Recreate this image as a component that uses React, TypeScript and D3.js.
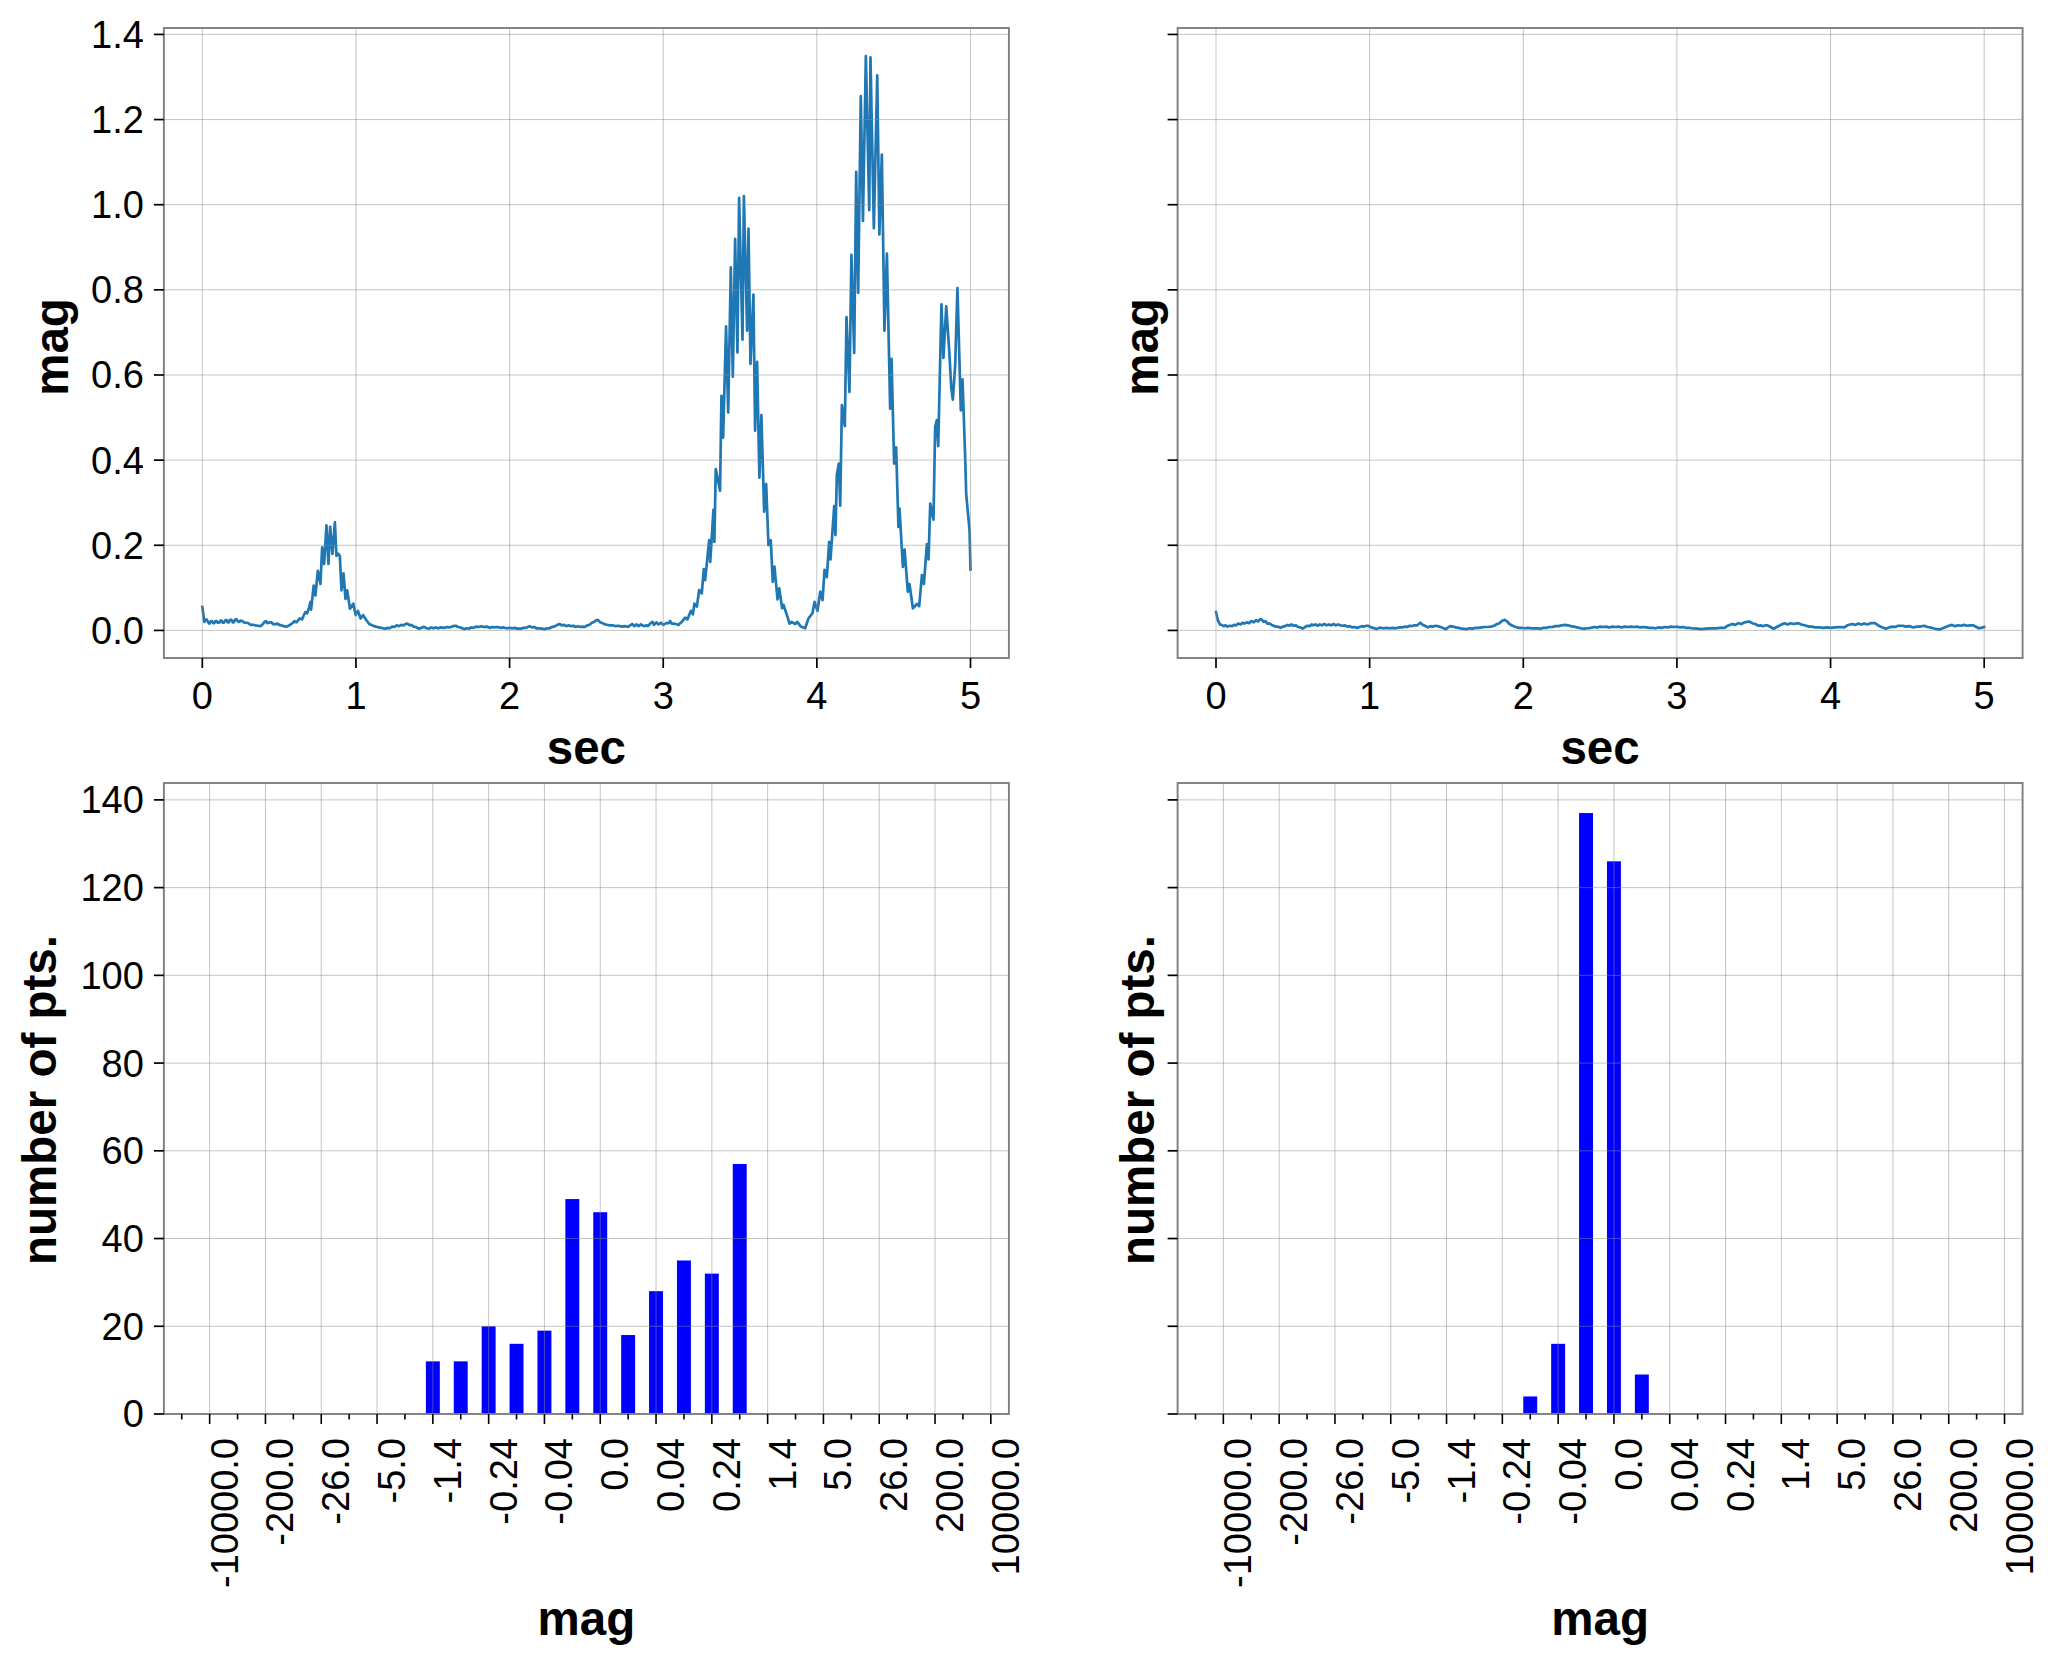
import React from "react";
import * as d3 from "d3";

type P = [number, number];

// top-left: sec, mag
const quietStartA: P[] = [[0,.055],[.013,.02],[.02,.024],[.028,.026],[.037,.02],[.046,.016],[.055,.021],[.063,.022],[.07,.017],[.078,.017],[.085,.022],[.093,.022],[.1,.018],[.11,.018],[.118,.023],[.125,.023],[.132,.018],[.14,.018],[.15,.024],[.158,.024],[.165,.019],[.172,.019],[.18,.025],[.19,.025],[.198,.019],[.205,.019],[.215,.026],[.223,.026],[.232,.021],[.24,.02],[.25,.023],[.26,.022],[.27,.019],[.28,.018],[.29,.018],[.3,.017],[.31,.014],[.32,.013],[.333,.013],[.345,.012],[.36,.011],[.377,.01],[.386,.012],[.395,.015],[.405,.02],[.414,.022],[.422,.017],[.43,.018],[.44,.019],[.45,.019],[.46,.015],[.47,.015],[.48,.015],[.49,.016],[.5,.013],[.515,.012],[.53,.01],[.547,.0085],[.556,.01],[.565,.012],[.578,.015],[.59,.018],[.6,.022],[.612,.019],[.625,.024],[.633,.028],[.649,.026],[.66,.035]];
const bumpA: P[] = [[.671,.043],[.682,.04],[.693,.051],[.704,.067],[.708,.049],[.725,.105],[.736,.082],[.752,.14],[.769,.109],[.78,.195],[.793,.156],[.808,.247],[.821,.156],[.832,.243],[.847,.18],[.863,.254],[.873,.175],[.885,.18],[.895,.175],[.906,.094],[.919,.134],[.932,.074],[.943,.094],[.961,.051],[.983,.063],[.998,.036],[1.013,.046],[1.03,.028],[1.046,.036],[1.068,.024],[1.086,.015],[1.1,.013],[1.118,.01],[1.15,.007],[1.19,.004]];
const quietMidA: P[] = [[1.205,.006],[1.22,.005],[1.235,.009],[1.25,.008],[1.265,.012],[1.28,.01],[1.295,.013],[1.31,.012],[1.322,.015],[1.335,.016],[1.348,.012],[1.36,.013],[1.375,.009],[1.39,.008],[1.41,.004],[1.425,.006],[1.444,.0085],[1.46,.005],[1.476,.004],[1.49,.007],[1.505,.005],[1.52,.007],[1.535,.005],[1.55,.007],[1.574,.006],[1.595,.008],[1.61,.007],[1.63,.01],[1.65,.011],[1.665,.008],[1.68,.007],[1.704,.003],[1.72,.005],[1.735,.004],[1.75,.007],[1.765,.006],[1.78,.009],[1.8,.008],[1.815,.01],[1.83,.008],[1.85,.009],[1.87,.006],[1.885,.008],[1.9,.007],[1.92,.008],[1.945,.006],[1.96,.007],[1.98,.005],[2.0,.006],[2.02,.005],[2.035,.006],[2.05,.004],[2.076,.004],[2.09,.006],[2.105,.006],[2.13,.01],[2.145,.007],[2.16,.008],[2.175,.005],[2.19,.005],[2.21,.004],[2.228,.003],[2.245,.005],[2.26,.005],[2.275,.008],[2.29,.009],[2.305,.012],[2.326,.015],[2.34,.012],[2.355,.013],[2.37,.01],[2.385,.012],[2.4,.01],[2.415,.011],[2.43,.008],[2.445,.01],[2.46,.008],[2.475,.009],[2.49,.008],[2.505,.012],[2.52,.013],[2.535,.018],[2.55,.02],[2.565,.024],[2.577,.024],[2.59,.019],[2.605,.017],[2.625,.014],[2.652,.012],[2.67,.012],[2.69,.01],[2.71,.011],[2.73,.009],[2.75,.01],[2.77,.0085],[2.785,.012],[2.8,.015],[2.812,.01],[2.825,.014],[2.84,.01],[2.855,.014],[2.875,.01],[2.89,.012],[2.9,.01],[2.915,.016],[2.93,.02],[2.94,.013],[2.955,.019],[2.97,.014],[2.985,.018],[3,.013],[3.02,.017],[3.035,.017],[3.045,.022],[3.055,.016],[3.067,.016],[3.083,.015],[3.099,.0125],[3.11,.017],[3.121,.02],[3.143,.03],[3.158,.026],[3.18,.046],[3.193,.038],[3.203,.063],[3.219,.056],[3.234,.095],[3.251,.087],[3.264,.144],[3.273,.118],[3.299,.212],[3.306,.161],[3.327,.283],[3.333,.208]];
const peakOneA: P[] = [[3.342,.379],[3.37,.328],[3.379,.551],[3.39,.453],[3.409,.714],[3.423,.512],[3.44,.853],[3.453,.596],[3.468,.92],[3.483,.653],[3.494,1.016],[3.516,.683],[3.525,1.02],[3.546,.704],[3.555,.944],[3.568,.626],[3.587,.789],[3.598,.469],[3.611,.631],[3.626,.359],[3.639,.506],[3.657,.279],[3.67,.344],[3.685,.2],[3.7,.212],[3.713,.114],[3.724,.15],[3.744,.073],[3.755,.099],[3.774,.052],[3.783,.06],[3.805,.036],[3.822,.016],[3.837,.02],[3.859,.015],[3.872,.02],[3.896,.009],[3.924,.005]];
const peakTwoA: P[] = [[3.945,.028],[3.971,.04],[3.985,.067],[4.004,.046],[4.022,.091],[4.037,.071],[4.05,.142],[4.065,.125],[4.08,.208],[4.089,.167],[4.113,.292],[4.121,.224],[4.13,.365],[4.143,.392],[4.152,.293],[4.163,.529],[4.182,.48],[4.193,.736],[4.212,.56],[4.225,.882],[4.243,.652],[4.256,1.077],[4.269,.793],[4.286,1.255],[4.3,.962],[4.319,1.349],[4.341,.987],[4.349,1.346],[4.371,.945],[4.393,1.304],[4.407,.93],[4.423,1.118],[4.44,.704],[4.456,.885],[4.477,.521],[4.486,.638],[4.503,.392],[4.516,.43],[4.531,.243],[4.538,.286],[4.56,.149],[4.571,.19],[4.592,.091],[4.603,.109],[4.625,.052]];
const peakThreeA: P[] = [[4.651,.062],[4.666,.057],[4.684,.13],[4.697,.109],[4.716,.203],[4.727,.167],[4.738,.298],[4.759,.26],[4.77,.478],[4.781,.494],[4.79,.433],[4.811,.766],[4.824,.64],[4.842,.761],[4.861,.66],[4.875,.57],[4.885,.542],[4.9,.62],[4.915,.804],[4.937,.517],[4.948,.59],[4.966,.4],[4.972,.32],[4.994,.235],[5,.143]];

// top-right: sec, mag
const seriesB: P[] = [[0,.043],[.012,.024],[.025,.014],[.036,.013],[.05,.01],[.062,.012],[.075,.009],[.09,.011],[.105,.01],[.118,.013],[.13,.012],[.145,.016],[.16,.014],[.172,.018],[.185,.016],[.2,.019],[.215,.017],[.23,.022],[.245,.019],[.26,.024],[.275,.021],[.285,.026],[.296,.026],[.31,.02],[.322,.022],[.335,.016],[.35,.016],[.367,.012],[.385,.009],[.4,.009],[.42,.006],[.435,.009],[.45,.01],[.465,.013],[.478,.011],[.49,.014],[.505,.011],[.52,.012],[.535,.008],[.55,.007],[.563,.004],[.58,.008],[.595,.011],[.61,.01],[.622,.014],[.634,.012],[.648,.014],[.66,.011],[.675,.014],[.69,.012],[.705,.015],[.72,.012],[.735,.014],[.75,.012],[.765,.015],[.78,.012],[.795,.014],[.81,.012],[.825,.011],[.84,.012],[.855,.009],[.87,.01],[.885,.007],[.9,.008],[.92,.006],[.935,.008],[.95,.01],[.965,.009],[.98,.011],[.99,.011],[1.005,.008],[1.02,.006],[1.032,.005],[1.044,.003],[1.06,.006],[1.075,.006],[1.09,.005],[1.11,.006],[1.13,.005],[1.15,.006],[1.17,.005],[1.19,.007],[1.21,.007],[1.23,.009],[1.245,.008],[1.26,.011],[1.275,.01],[1.29,.012],[1.31,.012],[1.33,.018],[1.345,.013],[1.36,.011],[1.38,.007],[1.395,.01],[1.41,.009],[1.43,.011],[1.454,.009],[1.47,.007],[1.497,.003],[1.51,.007],[1.525,.01],[1.545,.009],[1.56,.007],[1.58,.006],[1.6,.004],[1.63,.003],[1.65,.005],[1.67,.004],[1.69,.006],[1.71,.006],[1.73,.007],[1.75,.008],[1.77,.008],[1.79,.009],[1.81,.011],[1.83,.015],[1.845,.017],[1.86,.022],[1.88,.025],[1.895,.021],[1.91,.015],[1.93,.011],[1.95,.008],[1.97,.006],[1.99,.006],[2.01,.005],[2.03,.006],[2.06,.005],[2.09,.005],[2.11,.004],[2.13,.006],[2.15,.006],[2.17,.008],[2.19,.008],[2.21,.01],[2.23,.01],[2.25,.012],[2.27,.013],[2.29,.012],[2.31,.01],[2.33,.009],[2.35,.007],[2.375,.005],[2.4,.004],[2.42,.005],[2.44,.006],[2.46,.008],[2.48,.007],[2.5,.009],[2.52,.008],[2.54,.009],[2.56,.007],[2.58,.009],[2.6,.008],[2.62,.009],[2.64,.007],[2.66,.009],[2.68,.008],[2.7,.009],[2.72,.008],[2.74,.009],[2.76,.007],[2.78,.008],[2.8,.007],[2.82,.006],[2.84,.006],[2.86,.005],[2.88,.007],[2.9,.006],[2.92,.008],[2.94,.007],[2.96,.009],[2.98,.008],[3,.009],[3.02,.007],[3.04,.008],[3.06,.006],[3.08,.006],[3.1,.005],[3.13,.004],[3.16,.003],[3.19,.004],[3.22,.005],[3.25,.005],[3.28,.006],[3.31,.006],[3.33,.011],[3.36,.015],[3.38,.013],[3.4,.017],[3.42,.015],[3.44,.019],[3.47,.021],[3.49,.017],[3.51,.015],[3.53,.011],[3.545,.012],[3.56,.01],[3.575,.012],[3.59,.012],[3.61,.008],[3.63,.004],[3.65,.008],[3.67,.012],[3.7,.017],[3.72,.014],[3.74,.017],[3.76,.015],[3.79,.017],[3.81,.014],[3.83,.012],[3.86,.009],[3.88,.009],[3.9,.007],[3.93,.007],[3.95,.006],[3.98,.007],[4.0,.006],[4.03,.007],[4.06,.008],[4.09,.007],[4.11,.012],[4.14,.015],[4.16,.013],[4.18,.016],[4.2,.014],[4.22,.016],[4.24,.014],[4.26,.017],[4.29,.017],[4.31,.012],[4.33,.008],[4.36,.004],[4.38,.007],[4.4,.009],[4.42,.008],[4.44,.011],[4.47,.011],[4.49,.009],[4.51,.01],[4.54,.007],[4.56,.009],[4.58,.009],[4.61,.011],[4.63,.008],[4.65,.007],[4.68,.004],[4.71,.002],[4.73,.005],[4.75,.008],[4.77,.011],[4.79,.013],[4.81,.01],[4.83,.012],[4.85,.011],[4.87,.013],[4.89,.011],[4.91,.012],[4.93,.012],[4.95,.008],[4.965,.005],[4.98,.006],[5,.008]];

// bottom row
const magBinLabels = ["-10000.0","-200.0","-26.0","-5.0","-1.4","-0.24","-0.04","0.0","0.04","0.24","1.4","5.0","26.0","200.0","10000.0"];
const histBinsC: P[] = [[8,12],[9,12],[10,20],[11,16],[12,19],[13,49],[14,46],[15,18],[16,28],[17,35],[18,32],[19,57]];
const histBinsD: P[] = [[11,4],[12,16],[13,137],[14,126],[15,9]];
const secTicks = [0,1,2,3,4,5];
const magTicks = [0,.2,.4,.6,.8,1,1.2,1.4];
const countTicks = [0,20,40,60,80,100,120,140];

const seriesA = [...quietStartA,...bumpA,...quietMidA,...peakOneA,...peakTwoA,...peakThreeA];

const FONT = "'Liberation Sans', Arial, Helvetica, sans-serif";
const W = 845, TICK_SIZE = 38, LABEL_SIZE = 47.5;
const cols = [163.9, 1177.6];
const rowTop = [28, 658], rowBot = [783, 1414];
const GRID = { stroke: "#8c8c8c", strokeOpacity: 0.5, strokeWidth: 1 };

const yMag = d3.scaleLinear().domain([-0.0648, 1.4151]).range([rowTop[1], rowTop[0]]);
const yCount = d3.scaleLinear().domain([0, 143.85]).range([rowBot[1], rowBot[0]]);

function Frame({ x, y0, y1 }: { x: number; y0: number; y1: number }) {
  return <rect x={x} y={y0} width={W} height={y1 - y0} fill="none" stroke="#7f7f7f" strokeWidth={1.9} />;
}

function YAxis({ left, scale, ticks, labels, fmt, xLabel, yLabel, title }: any) {
  return (
    <g>
      {ticks.map((t: number) => (
        <g key={t}>
          <line x1={left - 10} x2={left} y1={scale(t)} y2={scale(t)} stroke="#000" strokeWidth={1.7} />
          {labels && (
            <text x={left - 20} y={scale(t)} dy="0.355em" textAnchor="end" fontSize={TICK_SIZE} fontFamily={FONT} fill="#000">{fmt(t)}</text>
          )}
        </g>
      ))}
      <text
        transform={`translate(${xLabel},${yLabel}) rotate(-90)`}
        textAnchor="middle" fontSize={LABEL_SIZE} fontWeight="bold" fontFamily={FONT} fill="#000">{title}</text>
    </g>
  );
}

function LinePanel({ col, data, xLabel }: { col: number; data: P[]; xLabel: number }) {
  const left = cols[col];
  const x = d3.scaleLinear().domain([-0.25, 5.25]).range([left, left + W]);
  const path = d3.line<P>().x(d => x(d[0])).y(d => yMag(d[1]))(data) || "";
  return (
    <g>
      <path d={path} fill="none" stroke="#1f77b4" strokeWidth={2.7} strokeLinejoin="round" strokeLinecap="square" />
      {secTicks.map(t => <line key={"g" + t} x1={x(t)} x2={x(t)} y1={rowTop[0]} y2={rowTop[1]} {...GRID} />)}
      {magTicks.map(t => <line key={"h" + t} x1={left} x2={left + W} y1={yMag(t)} y2={yMag(t)} {...GRID} />)}
      <Frame x={left} y0={rowTop[0]} y1={rowTop[1]} />
      {secTicks.map(t => (
        <g key={t}>
          <line x1={x(t)} x2={x(t)} y1={rowTop[1]} y2={rowTop[1] + 10} stroke="#000" strokeWidth={1.7} />
          <text x={x(t)} y={709} textAnchor="middle" fontSize={TICK_SIZE} fontFamily={FONT} fill="#000">{t}</text>
        </g>
      ))}
      <text x={left + W / 2} y={764} textAnchor="middle" fontSize={LABEL_SIZE} fontWeight="bold" fontFamily={FONT} fill="#000">sec</text>
      <YAxis left={left} scale={yMag} ticks={magTicks} labels={col === 0} fmt={(t: number) => t.toFixed(1)} xLabel={xLabel} yLabel={347} title="mag" />
    </g>
  );
}

function HistPanel({ col, bins, xLabel }: { col: number; bins: P[]; xLabel: number }) {
  const left = cols[col];
  const x = d3.scaleLinear().domain([-1.64, 28.648]).range([left, left + W]);
  const minor = d3.range(-1, 29);
  return (
    <g>
      {bins.map(([i, n]) => (
        <rect key={i} x={x(i - 0.25)} width={x(i + 0.25) - x(i - 0.25)} y={yCount(n)} height={yCount(0) - yCount(n)} fill="#0000ff" />
      ))}
      {magBinLabels.map((_, k) => <line key={"g" + k} x1={x(k * 2)} x2={x(k * 2)} y1={rowBot[0]} y2={rowBot[1]} {...GRID} />)}
      {countTicks.map(t => <line key={"h" + t} x1={left} x2={left + W} y1={yCount(t)} y2={yCount(t)} {...GRID} />)}
      <Frame x={left} y0={rowBot[0]} y1={rowBot[1]} />
      {minor.map(i => (
        <line key={i} x1={x(i)} x2={x(i)} y1={rowBot[1]} y2={rowBot[1] + (i % 2 === 0 ? 10 : 5.5)} stroke="#000" strokeWidth={1.6} />
      ))}
      {magBinLabels.map((s, k) => (
        <text key={s} transform={`translate(${x(k * 2) + 28},1438) rotate(-90)`} textAnchor="end" fontSize={TICK_SIZE} fontFamily={FONT} fill="#000">{s}</text>
      ))}
      <text x={left + W / 2} y={1635} textAnchor="middle" fontSize={LABEL_SIZE} fontWeight="bold" fontFamily={FONT} fill="#000">mag</text>
      <YAxis left={left} scale={yCount} ticks={countTicks} labels={col === 0} fmt={(t: number) => String(t)} xLabel={xLabel} yLabel={1100} title="number of pts." />
    </g>
  );
}

export default function App() {
  return (
    <svg width={2061} height={1664} viewBox="0 0 2061 1664" style={{ position: "absolute", left: 0, top: 0, background: "#fff" }}>
      <rect width={2061} height={1664} fill="#fff" />
      <LinePanel col={0} data={seriesA} xLabel={68} />
      <LinePanel col={1} data={seriesB} xLabel={1158} />
      <HistPanel col={0} bins={histBinsC} xLabel={56} />
      <HistPanel col={1} bins={histBinsD} xLabel={1154} />
    </svg>
  );
}
